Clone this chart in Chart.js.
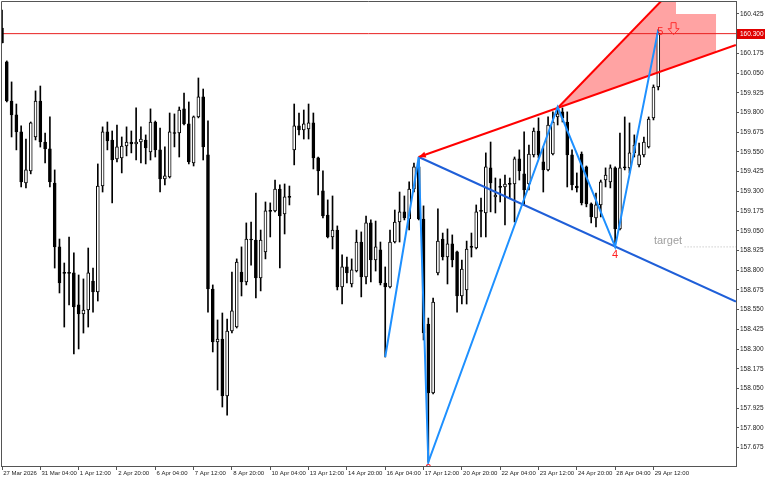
<!DOCTYPE html>
<html><head><meta charset="utf-8">
<script src="https://cdn.jsdelivr.net/npm/chart.js@4.4.1/dist/chart.umd.min.js"></script>
<style>html,body{margin:0;padding:0;background:#fff}</style>
</head><body>
<canvas id="c" width="768" height="480"></canvas>
<script>
// ---- data (4H candles, bar index 0 = 27 Mar 2026 20:00) ----
const open = [
160.336,160.121,159.873,159.785,159.677,159.353,159.430,159.645,159.873,159.613,
159.569,159.353,158.948,158.786,158.783,158.783,158.580,158.523,158.548,158.732,
158.662,159.334,159.677,159.626,159.506,159.512,159.588,159.613,159.601,159.613,
159.626,159.550,159.740,159.563,159.379,159.392,159.670,159.670,159.823,159.728,
159.480,159.772,159.899,159.531,158.681,158.345,158.364,158.003,158.415,158.440,
158.789,158.726,158.998,158.992,158.751,158.916,159.176,159.176,159.315,159.157,
159.265,159.563,159.715,159.689,159.696,159.734,159.512,159.303,159.150,159.011,
159.055,158.694,158.821,158.713,158.795,158.979,158.757,159.100,158.865,158.929,
158.719,158.694,158.979,159.106,159.170,159.125,159.315,159.455,159.125,158.459,
158.022,158.783,158.998,158.884,158.967,158.916,158.637,158.675,158.948,158.941,
159.176,159.163,159.449,159.265,159.328,159.328,159.347,159.347,159.506,159.411,
159.347,159.531,159.683,159.487,159.436,159.537,159.772,159.804,159.740,159.531,
159.334,159.537,159.455,159.221,159.132,159.214,159.372,159.360,159.449,159.062,
159.455,159.449,159.544,159.468,159.531,159.582,159.766,159.962];
const high = [
160.450,160.127,159.994,159.854,159.715,159.632,159.740,159.937,159.968,159.670,
159.772,159.436,158.998,158.846,159.011,158.910,158.770,158.745,158.941,158.814,
159.474,159.709,159.740,159.683,159.721,159.645,159.709,159.683,159.829,159.709,
159.658,159.823,159.746,159.702,159.582,159.797,159.791,159.835,159.924,159.867,
159.778,160.019,159.949,159.747,158.707,158.485,158.529,158.491,158.789,158.872,
158.948,159.100,159.106,159.290,159.055,159.233,159.227,159.372,159.341,159.347,
159.334,159.854,159.797,159.816,159.854,159.797,159.518,159.430,159.246,159.271,
159.081,158.897,158.884,158.872,159.055,159.043,159.144,159.119,159.112,158.979,
158.821,159.055,159.182,159.296,159.271,159.360,159.480,159.518,159.208,158.497,
158.624,159.189,159.036,159.062,159.024,158.922,158.865,158.985,159.036,159.214,
159.258,159.544,159.613,159.385,159.379,159.404,159.385,159.518,159.563,159.677,
159.594,159.702,159.766,159.582,159.772,159.804,159.835,159.829,159.804,159.563,
159.417,159.550,159.461,159.227,159.290,159.372,159.449,159.468,159.455,159.670,
159.772,159.734,159.658,159.607,159.645,159.772,159.975,160.324];
const low = [
160.241,159.867,159.645,159.563,159.328,159.322,159.411,159.626,159.581,159.480,
159.328,158.814,158.656,158.440,158.580,158.269,158.301,158.402,158.440,158.535,
158.605,159.296,159.563,159.227,159.487,159.417,159.525,159.544,159.499,159.480,
159.474,159.499,159.518,159.296,159.341,159.385,159.582,159.518,159.721,159.474,
159.461,159.766,159.499,158.535,158.282,158.041,157.933,157.882,158.402,158.434,
158.637,158.707,158.833,158.624,158.669,158.872,159.011,159.170,158.814,159.030,
159.214,159.468,159.658,159.632,159.632,159.442,159.277,159.132,159.005,158.935,
158.675,158.586,158.719,158.694,158.789,158.631,158.713,158.726,158.795,158.707,
158.250,158.688,158.973,158.979,159.119,159.055,159.296,159.119,158.358,157.584,
158.016,158.770,158.865,158.713,158.821,158.535,158.586,158.586,158.884,158.935,
159.011,159.011,159.170,159.163,159.233,159.087,159.258,159.106,159.372,159.214,
159.309,159.518,159.512,159.296,159.430,159.531,159.721,159.740,159.328,159.309,
159.296,159.214,159.202,159.100,159.075,159.138,159.328,159.322,158.948,159.055,
159.436,159.417,159.518,159.455,159.518,159.575,159.753,159.943];
const close = [
160.241,159.873,159.785,159.677,159.360,159.436,159.734,159.873,159.613,159.569,
159.360,158.948,158.719,158.780,158.780,158.567,158.523,158.548,158.783,158.662,
159.334,159.677,159.620,159.499,159.582,159.588,159.613,159.601,159.613,159.632,
159.575,159.740,159.563,159.379,159.398,159.677,159.667,159.816,159.728,159.487,
159.772,159.899,159.582,158.681,158.345,158.364,158.003,158.415,158.542,158.852,
158.726,158.998,158.992,158.751,158.992,159.176,159.173,159.315,159.144,159.265,
159.262,159.715,159.689,159.728,159.734,159.512,159.430,159.144,159.011,159.055,
158.694,158.821,158.783,158.802,158.979,158.757,159.100,158.865,158.948,158.719,
158.694,158.979,159.106,159.170,159.132,159.315,159.455,159.125,158.402,158.022,
158.599,158.985,158.884,158.967,158.865,158.637,158.808,158.935,158.945,159.170,
159.173,159.455,159.353,159.277,159.325,159.347,159.344,159.506,159.430,159.309,
159.537,159.683,159.531,159.436,159.721,159.740,159.791,159.766,159.531,159.341,
159.322,159.227,159.221,159.138,159.214,159.360,159.404,159.449,159.062,159.449,
159.449,159.544,159.594,159.531,159.613,159.759,159.962,160.300];

const xTickBars = [0,8,16,24,32,40,48,56,64,72,80,88,96,104,112,120,128,136];
const xTickLabels = ['27 Mar 2026','31 Mar 04:00','1 Apr 12:00','2 Apr 20:00','6 Apr 04:00','7 Apr 12:00',
  '8 Apr 20:00','10 Apr 04:00','13 Apr 12:00','14 Apr 20:00','16 Apr 04:00','17 Apr 12:00',
  '20 Apr 20:00','22 Apr 04:00','23 Apr 12:00','24 Apr 20:00','28 Apr 04:00','29 Apr 12:00'];
const yTicks = [157.675,157.800,157.925,158.050,158.175,158.300,158.425,158.550,158.675,158.800,
  158.925,159.050,159.175,159.300,159.425,159.550,159.675,159.800,159.925,160.050,160.175,160.300,160.425];

const currentPrice = 160.300;
const targetLevel = 158.948;
const zigzagBars = [80, 87, 89, 116, 128, 137];
const zigzagPrices = [158.250, 159.518, 157.584, 159.835, 158.948, 160.324];
const upperLineBars = [87, 153.2];
const upperLinePrices = [159.518, 160.228];
const lowerLineBars = [87, 153.2];
const lowerLinePrices = [159.518, 158.602];
const steepLineBars = [116, 139];
const steepLinePrices = [159.829, 160.55];
const zoneBars = [116, 139, 140.7, 140.7, 149.06, 149.06];
const zonePrices = [159.829, 160.55, 160.55, 160.425, 160.425, 160.183];
const pointLabels = ['2', '4', '5'];
const pointLabelBars = [89, 128, 137];
const pointLabelPrices = [157.584, 158.948, 160.324];

// ---- scale ranges ----
const xMin = -0.209, xMax = 153.23;
const yMin = 157.559, yMax = 160.507;

const idx = open.map((_, i) => i);
const bodyData = idx.map(i => ({x: i, y: [open[i], close[i]]}));
const wickData = idx.map(i => ({x: i, y: [low[i], high[i]]}));
const bodyFill = idx.map(i => close[i] >= open[i] ? '#ffffff' : '#000000');
const pts = (xs, ys) => xs.map((x, i) => ({x, y: ys[i]}));

const yFont = {family: 'Liberation Sans', size: 6.5};
const xFont = {family: 'Liberation Sans', size: 6};

const overlay = {
  id: 'overlay',
  beforeDatasetsDraw(chart) {
    const {ctx, chartArea: a, scales: {x, y}} = chart;
    ctx.save();
    ctx.beginPath(); ctx.rect(a.left, a.top, a.right - a.left, a.bottom - a.top); ctx.clip();
    ctx.beginPath();
    zoneBars.forEach((b, i) => {
      const px = x.getPixelForValue(b), py = y.getPixelForValue(zonePrices[i]);
      i ? ctx.lineTo(px, py) : ctx.moveTo(px, py);
    });
    ctx.closePath();
    ctx.fillStyle = '#ffa3a3';
    ctx.fill();
    ctx.restore();
  },
  afterDatasetsDraw(chart) {
    const {ctx, chartArea: a, scales: {x, y}} = chart;
    ctx.save();
    ctx.beginPath(); ctx.rect(a.left, a.top, a.right - a.left, a.bottom - a.top); ctx.clip();
    ctx.fillStyle = '#ff2020';
    ctx.font = '11px "Liberation Sans"';
    ctx.textAlign = 'center'; ctx.textBaseline = 'middle';
    const offs = [[0, 7], [0, 8], [2, 2]];
    pointLabels.forEach((t, i) => {
      const px = x.getPixelForValue(pointLabelBars[i]) + offs[i][0];
      const py = y.getPixelForValue(pointLabelPrices[i]) + offs[i][1];
      ctx.fillText(t, px, py);
    });
    const ax = x.getPixelForValue(upperLineBars[0]), ay = y.getPixelForValue(upperLinePrices[0]);
    const bx = x.getPixelForValue(upperLineBars[1]), by = y.getPixelForValue(upperLinePrices[1]);
    let dx = bx - ax, dy = by - ay; const L = Math.hypot(dx, dy); dx /= L; dy /= L;
    ctx.beginPath();
    ctx.moveTo(ax, ay);
    ctx.lineTo(ax + dx * 7 - dy * 3, ay + dy * 7 + dx * 3);
    ctx.lineTo(ax + dx * 7 + dy * 3, ay + dy * 7 - dx * 3);
    ctx.closePath();
    ctx.fillStyle = '#ff0000'; ctx.fill();
    const cx = x.getPixelForValue(140.2), cy = y.getPixelForValue(currentPrice) - 11;
    ctx.beginPath();
    ctx.moveTo(cx - 2.5, cy); ctx.lineTo(cx + 2.5, cy); ctx.lineTo(cx + 2.5, cy + 6);
    ctx.lineTo(cx + 5.5, cy + 6); ctx.lineTo(cx, cy + 12); ctx.lineTo(cx - 5.5, cy + 6);
    ctx.lineTo(cx - 2.5, cy + 6); ctx.closePath();
    ctx.strokeStyle = '#ff3030'; ctx.lineWidth = 1; ctx.stroke();
    ctx.fillStyle = '#a0a0a0';
    ctx.font = '11px "Liberation Sans"';
    ctx.textAlign = 'left'; ctx.textBaseline = 'alphabetic';
    ctx.fillText('target', x.getPixelForValue(136.1), y.getPixelForValue(targetLevel) - 3);
    ctx.restore();
    ctx.save();
    ctx.strokeStyle = '#555'; ctx.lineWidth = 1;
    ctx.beginPath();
    ctx.moveTo(a.left + 0.5, a.bottom); ctx.lineTo(a.left + 0.5, a.top + 0.5); ctx.lineTo(a.right, a.top + 0.5);
    ctx.stroke();
    const py = Math.round(y.getPixelForValue(currentPrice));
    ctx.fillStyle = '#e00000';
    ctx.fillRect(a.right + 1, py - 5, 28, 10);
    ctx.fillStyle = '#ffffff';
    ctx.font = '6.5px "Liberation Sans"';
    ctx.textAlign = 'left'; ctx.textBaseline = 'middle';
    ctx.fillText(currentPrice.toFixed(3), a.right + 4, py + 0.5);
    ctx.restore();
  }
};

new Chart(document.getElementById('c'), {
  type: 'bar',
  data: {
    datasets: [
      {type: 'line', data: pts(zigzagBars, zigzagPrices), borderColor: '#1e90ff', borderWidth: 2, pointRadius: 0, tension: 0, fill: false, order: 0},
      {type: 'line', data: pts(upperLineBars, upperLinePrices), borderColor: '#ff0000', borderWidth: 2, pointRadius: 0, tension: 0, fill: false, order: 0},
      {type: 'line', data: pts(steepLineBars, steepLinePrices), borderColor: '#ff0000', borderWidth: 2, pointRadius: 0, tension: 0, fill: false, order: 0},
      {type: 'line', data: pts(lowerLineBars, lowerLinePrices), borderColor: '#1f5fd8', borderWidth: 2, pointRadius: 0, tension: 0, fill: false, order: 0},
      {type: 'line', data: pts([142.5, 154], [targetLevel, targetLevel]), borderColor: '#b4b4b4', borderWidth: 1, borderDash: [1, 2], pointRadius: 0, fill: false, order: 1},
      {type: 'bar', data: bodyData, backgroundColor: bodyFill, borderColor: '#000000', borderWidth: 1, borderSkipped: false, barThickness: 3, minBarLength: 1, grouped: false, order: 2},
      {type: 'bar', data: wickData, backgroundColor: '#000000', borderWidth: 0, barThickness: 1, grouped: false, order: 3},
      {type: 'line', data: pts([-1, 154], [currentPrice, currentPrice]), borderColor: '#e82020', borderWidth: 1, pointRadius: 0, fill: false, order: 5}
    ]
  },
  options: {
    responsive: false, animation: false, devicePixelRatio: 1,
    layout: {padding: {left: 1, top: 1, right: 0, bottom: 0}},
    plugins: {legend: {display: false}, tooltip: {enabled: false}},
    scales: {
      x: {
        type: 'linear', min: xMin, max: xMax, offset: false,
        grid: {display: true, drawOnChartArea: false, drawTicks: true, tickLength: 4, color: '#555', offset: false},
        border: {display: true, color: '#555'},
        ticks: {font: xFont, color: '#222', padding: 0, align: 'start', maxRotation: 0, autoSkip: false,
          callback: (v, i) => '\u2009' + xTickLabels[i]},
        afterBuildTicks: s => { s.ticks = xTickBars.map(v => ({value: v})); },
        afterFit: s => { s.height = 14; s.paddingLeft = 0; s.paddingRight = 0; s.paddingTop = 0; s.paddingBottom = 0; }
      },
      y: {
        type: 'linear', position: 'right', min: yMin, max: yMax,
        grid: {display: true, drawOnChartArea: false, drawTicks: true, tickLength: 3, color: '#555'},
        border: {display: true, color: '#555'},
        ticks: {font: yFont, color: '#222', padding: 1, autoSkip: false, callback: v => v.toFixed(3)},
        afterBuildTicks: s => { s.ticks = yTicks.map(v => ({value: v})); },
        afterFit: s => { s.width = 32; s.paddingTop = 0; s.paddingBottom = 0; s.paddingLeft = 0; s.paddingRight = 0; }
      }
    }
  },
  plugins: [overlay]
});
</script>
</body></html>
